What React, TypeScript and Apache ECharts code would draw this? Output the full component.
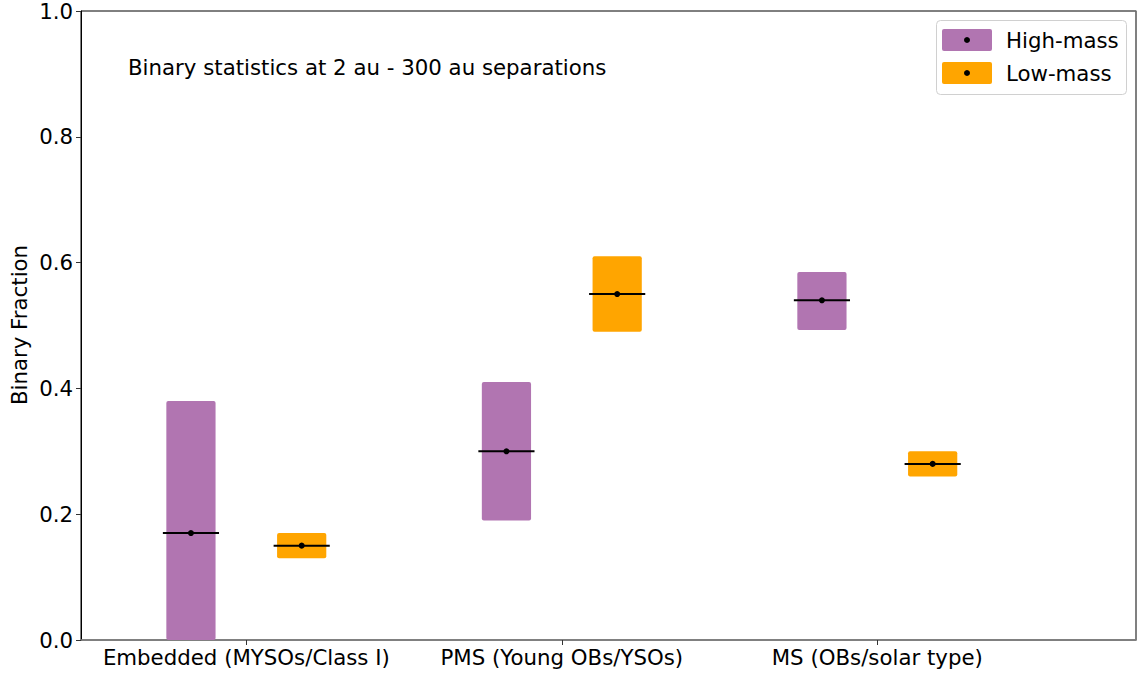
import React, { useEffect, useRef } from "react";
import * as echarts from "echarts";

const categories = ["Embedded (MYSOs/Class I)", "PMS (Young OBs/YSOs)", "MS (OBs/solar type)"];
const groupPositions = [1, 2, 3];
const highMassLow = [0, 0.19, 0.493];
const highMassHigh = [0.38, 0.41, 0.585];
const highMassMedian = [0.17, 0.3, 0.54];
const lowMassLow = [0.13, 0.49, 0.26];
const lowMassHigh = [0.17, 0.61, 0.3];
const lowMassMedian = [0.15, 0.55, 0.28];

const PURPLE = "#b175b1";
const ORANGE = "#ffa500";
const FONT = "DejaVu Sans";
const FS = 21.3;
const OFFSET = 0.1755;
const BAR_HALF = 0.078;
const LINE_HALF = 0.089;

function makeRender(color: string) {
  return (params: any, api: any) => {
    const x = api.value(0);
    const lo = api.value(1);
    const hi = api.value(2);
    const med = api.value(3);
    const pLeft = api.coord([x - BAR_HALF, hi]);
    const pRight = api.coord([x + BAR_HALF, lo]);
    const lL = api.coord([x - LINE_HALF, med]);
    const lR = api.coord([x + LINE_HALF, med]);
    const c = api.coord([x, med]);
    return {
      type: "group",
      children: [
        {
          type: "rect",
          shape: { x: pLeft[0], y: pLeft[1], width: pRight[0] - pLeft[0], height: pRight[1] - pLeft[1], r: 2 },
          style: { fill: color },
        },
        {
          type: "line",
          shape: { x1: lL[0], y1: lL[1], x2: lR[0], y2: lR[1] },
          style: { stroke: "#000", lineWidth: 2 },
        },
        { type: "circle", shape: { cx: c[0], cy: c[1], r: 3 }, style: { fill: "#000" } },
      ],
    };
  };
}

export default function App() {
  const ref = useRef<HTMLDivElement>(null);
  useEffect(() => {
    if (!ref.current) return;
    const chart = echarts.init(ref.current, null, { renderer: "svg" });
    const highData = groupPositions.map((g, i) => [g - OFFSET, highMassLow[i], highMassHigh[i], highMassMedian[i]]);
    const lowData = groupPositions.map((g, i) => [g + OFFSET, lowMassLow[i], lowMassHigh[i], lowMassMedian[i]]);
    const font = `${FS}px "${FONT}"`;
    chart.setOption({
      animation: false,
      backgroundColor: "#fff",
      grid: { left: 81, right: 1, top: 11, bottom: 37, show: true, borderColor: "#000", borderWidth: 1 },
      xAxis: {
        type: "value",
        min: 0.476,
        max: 3.82,
        splitLine: { show: false },
        axisLine: { show: true, lineStyle: { color: "#808080", width: 1.5 } },
        axisTick: { show: true, customValues: groupPositions, length: 5, lineStyle: { color: "#333" } },
        axisLabel: {
          customValues: groupPositions,
          formatter: (v: number) => categories[groupPositions.indexOf(Math.round(v))] ?? "",
          fontFamily: FONT,
          fontSize: FS,
          color: "#000",
          margin: 7,
        },
      },
      yAxis: [
        {
          type: "value",
          min: 0,
          max: 1,
          interval: 0.2,
          splitLine: { show: false },
          axisLine: { show: true, lineStyle: { color: "#000" } },
          axisTick: { show: true, length: 5, lineStyle: { color: "#333" } },
          axisLabel: {
            formatter: (v: number) => v.toFixed(1),
            fontFamily: FONT,
            fontSize: FS,
            color: "#000",
            margin: 8,
          },
        },
        {
          type: "value",
          position: "right",
          min: 0,
          max: 1,
          splitLine: { show: false },
          axisLine: { show: true, lineStyle: { color: "#808080", width: 1.5 } },
          axisTick: { show: false },
          axisLabel: { show: false },
        },
      ],
      series: [
        { name: "High-mass", type: "custom", renderItem: makeRender(PURPLE), data: highData, encode: { x: 0, y: [1, 2] } },
        { name: "Low-mass", type: "custom", renderItem: makeRender(ORANGE), data: lowData, encode: { x: 0, y: [1, 2] } },
      ],
      graphic: [
        {
          type: "text",
          x: 128,
          y: 67,
          style: { text: "Binary statistics at 2 au - 300 au separations", font, fill: "#000", verticalAlign: "middle" },
        },
        {
          type: "text",
          x: 19,
          y: 325,
          rotation: Math.PI / 2,
          style: { text: "Binary Fraction", font, fill: "#000", align: "center", verticalAlign: "middle" },
        },
        {
          type: "rect",
          shape: { x: 936.5, y: 20.5, width: 190, height: 74, r: 4 },
          style: { fill: "rgba(255,255,255,0.8)", stroke: "#d0d0d0", lineWidth: 1 },
        },
        { type: "rect", shape: { x: 942, y: 29, width: 50, height: 22, r: 2 }, style: { fill: PURPLE } },
        { type: "circle", shape: { cx: 967, cy: 40, r: 3 }, style: { fill: "#000" } },
        {
          type: "text",
          x: 1006,
          y: 40,
          style: { text: "High-mass", font, fill: "#000", verticalAlign: "middle" },
        },
        { type: "rect", shape: { x: 942, y: 62, width: 50, height: 22, r: 2 }, style: { fill: ORANGE } },
        { type: "circle", shape: { cx: 967, cy: 73, r: 3 }, style: { fill: "#000" } },
        {
          type: "text",
          x: 1006,
          y: 73,
          style: { text: "Low-mass", font, fill: "#000", verticalAlign: "middle" },
        },
      ],
    });
    return () => chart.dispose();
  }, []);
  return <div ref={ref} style={{ position: "fixed", left: 0, top: 0, width: 1137, height: 677 }} />;
}
